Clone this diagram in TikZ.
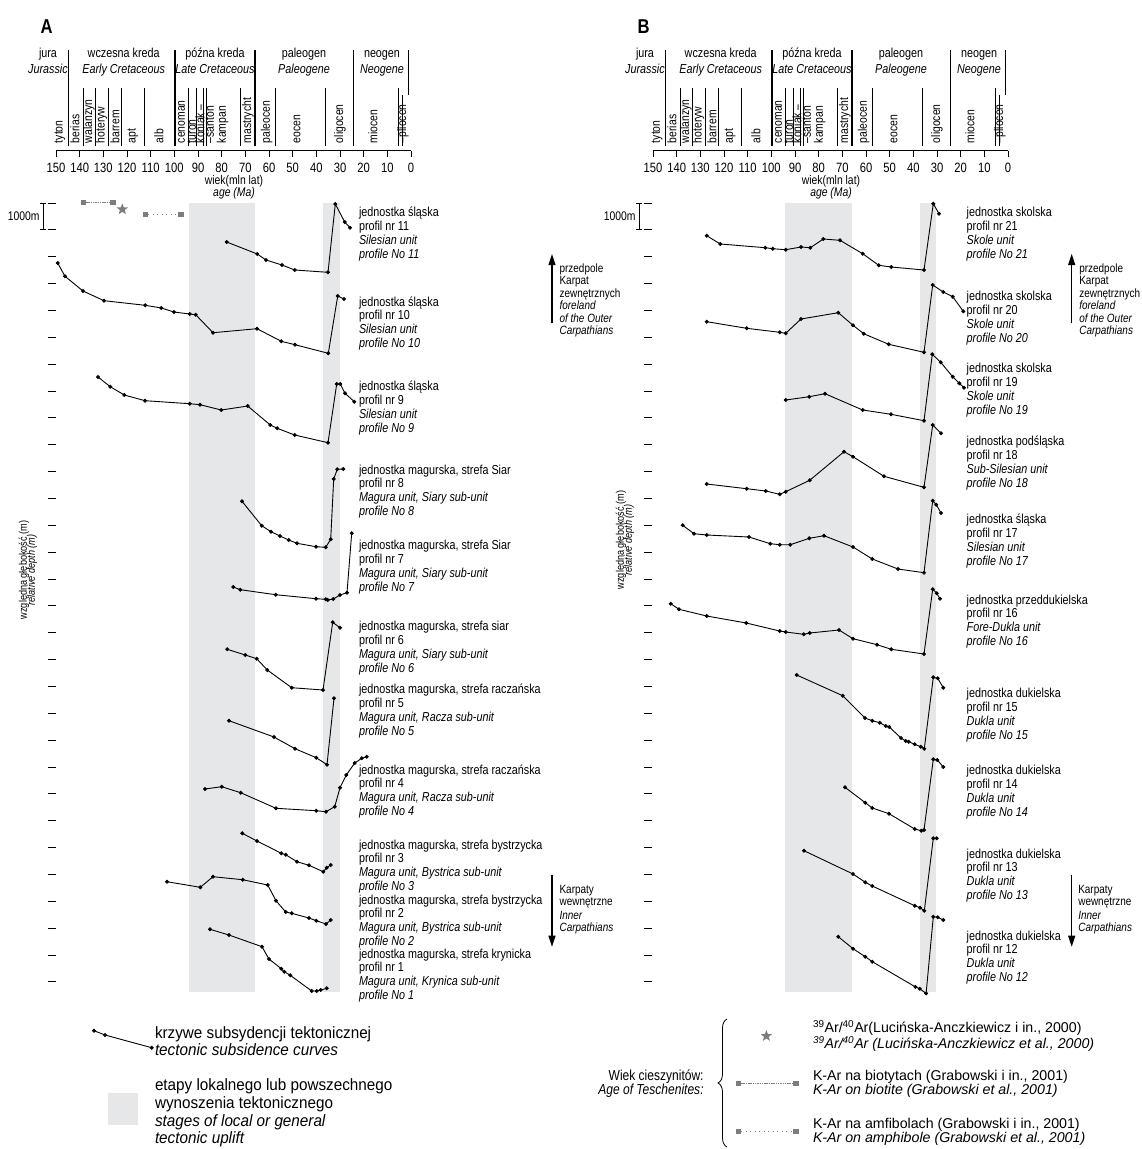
\documentclass[tikz,border=0pt]{standalone}
\usepackage{fontspec}
\setmainfont{Liberation Sans}[FakeStretch=0.83]
\newfontfamily\legfont{Liberation Sans}[FakeStretch=1.0]
\newfontfamily\legafont{Liberation Sans}[FakeStretch=0.93]
\usetikzlibrary{decorations.pathreplacing,arrows.meta,shapes.geometric}
\definecolor{bandgray}{RGB}{230,231,232}
\definecolor{symgray}{RGB}{125,125,125}

\newcommand\plab[7]{%
 \node[lab] (#1a) at (#2,#3+4) {#4};
 \node[lab] (#1b) at (#2,#3+17.9) {#5};
 \node[labi] (#1c) at (#2,#3+31.8) {#6};
 \node[labi] (#1d) at (#2,#3+45.7) {#7};}

\newcommand\geoheader[1]{%
 \node[font=\bfseries\fontsize{20}{20}\selectfont, anchor=base] (#1letter) at (46.5,33) {#1};
 \node[per] (#1p1) at (48,57) {jura};
 \node[peri] (#1p1e) at (48,73) {Jurassic};
 \node[per] (#1p2) at (123.7,57) {wczesna kreda};
 \node[peri] (#1p2e) at (123.7,73) {Early Cretaceous};
 \node[per] (#1p3) at (215,57) {późna kreda};
 \node[peri] (#1p3e) at (215,73) {Late Cretaceous};
 \node[per] (#1p4) at (304,57) {paleogen};
 \node[peri] (#1p4e) at (304,73) {Paleogene};
 \node[per] (#1p5) at (382,57) {neogen};
 \node[peri] (#1p5e) at (382,73) {Neogene};
 \foreach \xx in {68.3,175,255,353.3} \draw[line width=1.4pt] (\xx,50) -- (\xx,146);
 \draw[line width=1.4pt] (408.3,50) -- (408.3,95);
 \foreach \xx in {83.3,95,108.3,121.7,144,188.3,196.7,203.3,206.7,240,275,325,398.3} \draw[line width=0.9pt] (\xx,88) -- (\xx,146);
 \draw[line width=0.9pt] (402,95) -- (402,146);
 \node[stg] (#1s1) at (60,143) {tyton};
 \node[stg] (#1s2) at (75,143) {berias};
 \node[stg] (#1s3) at (89,143) {walanżyn};
 \node[stg] (#1s4) at (101.5,143) {hoteryw};
 \node[stg] (#1s5) at (115,143) {barrem};
 \node[stg] (#1s6) at (133,143) {apt};
 \node[stg] (#1s7) at (159,143) {alb};
 \node[stg] (#1s8) at (181.5,143) {cenoman};
 \node[stg] (#1s9) at (192,143) {turon};
 \node[stg] (#1s10) at (200,143) {koniak –};
 \node[stg] (#1s11) at (210,143) {–santon};
 \node[stg] (#1s12) at (222.7,143) {kampan};
 \node[stg] (#1s13) at (248,143) {mastrycht};
 \node[stg] (#1s14) at (266.7,143) {paleocen};
 \node[stg] (#1s15) at (297,143) {eocen};
 \node[stg] (#1s16) at (340,143) {oligocen};
 \node[stg] (#1s17) at (373,143) {miocen};
 \node[stg] (#1s18) at (403,143) {–pliocen};
 \draw[line width=0.9pt] (56,150.7) -- (411,150.7);
 \foreach \k in {0,...,15} {
   \pgfmathsetmacro\xx{56+23.667*\k}
   \pgfmathtruncatemacro\vv{150-10*\k}
   \draw[line width=0.9pt] (\xx,150.7) -- (\xx,157);
   \node[axn] (#1n\k) at (\xx,172) {\vv};
 }
 \node[wk] (#1wiek) at (234,184.5) {wiek(mln lat)};
 \node[wk, font=\fontsize{12.5}{13}\selectfont\itshape] (#1age) at (234,196.5) {age (Ma)};
}

\newcommand\depthaxis[1]{%
 \foreach \i in {0,...,29} \draw[line width=1pt] (48.3,{203+26.86*\i}) -- (55.7,{203+26.86*\i});
 \draw[line width=1pt] (43,203) -- (43,229.9);
 \draw[line width=1pt] (40.3,203) -- (45.7,203);
 \draw[line width=1pt] (40.3,229.9) -- (45.7,229.9);
 \node[font=\fontsize{12.5}{13}\selectfont, anchor=base east] (#1scale) at (39.5,220.5) {1000m};
}

\begin{document}
\begin{tikzpicture}[x=1pt,y=-1pt,
  every node/.style={inner sep=0pt, outer sep=0pt},
  lab/.style={font=\fontsize{13}{13.9}\selectfont, anchor=base west},
  labi/.style={font=\fontsize{13}{13.9}\selectfont\itshape, anchor=base west},
  per/.style={font=\fontsize{13}{14}\selectfont, anchor=base},
  peri/.style={font=\fontsize{13}{14}\selectfont\itshape, anchor=base},
  stg/.style={font=\fontsize{12.5}{12}\selectfont, rotate=90, anchor=west},
  axn/.style={font=\fontsize{13.5}{14}\selectfont, anchor=base},
  wk/.style={font=\fontsize{12.5}{13}\selectfont, anchor=base},
  ann/.style={font=\fontsize{12}{12.6}\selectfont, anchor=base west},
  anni/.style={font=\fontsize{12}{12.6}\selectfont\itshape, anchor=base west},
  curve/.style={line width=0.9pt, mark=*, mark size=1.5pt, mark options={solid,fill=black}},
  band/.style={fill=bandgray, draw=none},
  sq/.style={fill=symgray, minimum size=5.5pt, inner sep=0pt},
  starsym/.style={star, star points=5, star point ratio=2.4, fill=symgray, minimum size=12pt, inner sep=0pt},
  biot/.style={symgray, line width=0.8pt, dash pattern=on 1.5pt off 0.8pt},
  amph/.style={symgray, line width=0.8pt, dash pattern=on 1pt off 3.5pt},
  arr/.style={line width=1.1pt, -{Triangle[length=11pt,width=7pt]}},
  legA/.style={font=\legafont\fontsize{16.4}{16}\selectfont, anchor=base west},
  legAi/.style={font=\legafont\fontsize{16.4}{16}\selectfont\itshape, anchor=base west},
  legB/.style={font=\legfont\fontsize{14.2}{14}\selectfont, anchor=base west},
  legBi/.style={font=\legfont\fontsize{14.2}{14}\selectfont\itshape, anchor=base west}
]
\useasboundingbox (0,0) rectangle (1142,1149);

% ---------- bands ----------
\fill[band] (189,203) rectangle (255,992);
\fill[band] (323.3,203) rectangle (340,992);
\fill[band] (785,203) rectangle (851.7,992);
\fill[band] (920,203) rectangle (936.3,992);

% ---------- headers ----------
\geoheader{A}
\begin{scope}[xshift=597pt]
\geoheader{B}
\end{scope}

% ---------- depth axes ----------
\depthaxis{A}
\begin{scope}[xshift=596pt]
\depthaxis{B}
\end{scope}

\node[rotate=90, font=\fontsize{11}{11}\selectfont] (ylabA) at (24,570) {względna głębokość (m)};
\node[rotate=90, font=\fontsize{11}{11}\selectfont\itshape] (ylabAe) at (32,570) {relative depth (m)};
\node[rotate=90, font=\fontsize{11}{11}\selectfont] (ylabB) at (621,540) {względna głębokość (m)};
\node[rotate=90, font=\fontsize{11}{11}\selectfont\itshape] (ylabBe) at (629,540) {relative depth (m)};

% ---------- teschenite ages (panel A) ----------
\node[sq] (bA1) at (83.3,202.7) {};
\node[sq] (bA2) at (113,202.7) {};
\draw[biot] (bA1) -- (bA2);
\node[starsym] (stA) at (122.3,209.3) {};
\node[sq] (aA1) at (145.7,214.3) {};
\node[sq] (aA2) at (181,214.3) {};
\draw[amph] (aA1) -- (aA2);

% ---------- panel A curves ----------
\draw[curve] plot coordinates {(226.7,242) (257.3,254) (266,260) (282,265) (294.7,270) (328,272.3) (335.3,204) (344.7,222) (350,227.7)};
\draw[curve] plot coordinates {(57.7,263) (65,276.3) (83,291) (104,300.7) (145.3,305.3) (161.3,308) (174,312) (189.7,314) (195.7,314.7) (213,332.7) (257,328.7) (281.3,341.3) (295,344.7) (328.3,353.3) (337.7,296) (344,299)};
\draw[curve] plot coordinates {(98,377) (110.3,386.7) (124.3,395) (145,400.7) (189.7,403.7) (200,404.7) (221.3,410) (247.7,406) (270.3,425) (277.3,428.3) (294.7,435) (328,442.7) (336.7,384) (340.3,384) (345,393.3) (354.3,401.7)};
\draw[curve] plot coordinates {(242,501.3) (261.7,525.7) (271,531.7) (280,536) (288.7,540) (297,543.3) (316,546.7) (325.7,547.3) (330.7,539.3) (333.7,479) (337.3,469.3) (343.3,469)};
\draw[curve] plot coordinates {(233.3,587) (240.3,589.7) (275.7,594.7) (316,598.7) (325.7,599.3) (327.7,600) (333.3,599) (340,595) (347,592.7) (351.7,533.3)};
\draw[curve] plot coordinates {(227.3,649.3) (245.3,655) (256.7,658.7) (267.3,670) (291.7,687.7) (323,690) (332.7,622.3) (340,627.7)};
\draw[curve] plot coordinates {(229,720.7) (274,737) (295,748.7) (316.3,757.7) (327,764.7) (334,698.3)};
\draw[curve] plot coordinates {(205,789) (221.7,786.7) (240.7,792.7) (276,808.3) (316.3,810.7) (326,811.7) (334.7,806.7) (340,787.7) (346.3,775) (354.7,763) (361.7,758.3) (366.7,756.7)};
\draw[curve] plot coordinates {(242.3,833.3) (257,841) (281.3,853.3) (285.7,854.7) (297,861.7) (309,865.3) (323.3,871.7) (326.7,867.7) (330.7,865)};
\draw[curve] plot coordinates {(167,881.7) (200.3,887.3) (213,876.7) (242.7,879.7) (267.7,885) (276,900.7) (285.7,912) (291.7,913.3) (309,918) (316.3,920.7) (326,924) (330.7,920)};
\draw[curve] plot coordinates {(210,929.3) (229,935) (262,946.7) (269,959) (281.3,968.7) (284.3,971.7) (290.3,975.3) (311.7,991) (316.7,991) (320.7,990) (326.7,988.3)};

% ---------- panel B curves ----------
\draw[curve] plot coordinates {(706.7,235.7) (720.3,244) (765.3,247.7) (772.7,248.7) (785.7,249.7) (801,247) (810.3,247.7) (823.3,239) (840,240.3) (862.7,253.7) (878.7,265.3) (891.3,267) (924,270) (933.3,203.7) (939,213.7)};
\draw[curve] plot coordinates {(706.7,321.7) (746.7,328.3) (779.7,332.3) (785.7,333.3) (801,319) (838.3,312.7) (853,325.3) (863.7,333.7) (888.7,344.3) (924,352.3) (932.7,285) (943.3,292) (952.7,296.7) (963.3,311.3)};
\draw[curve] plot coordinates {(785.7,400) (809.3,396.7) (825,393.7) (862.7,410) (891,414.3) (924,420.7) (932.3,354.3) (940.7,362.3) (952.7,376.7) (959.3,383.3) (964,387.7)};
\draw[curve] plot coordinates {(706.7,484) (746.7,488.7) (765.7,491) (779.7,494.3) (785.7,491.7) (809.7,480.3) (844,451.7) (853,456.7) (884,476.3) (924,487.3) (932.7,425) (941,433.3)};
\draw[curve] plot coordinates {(682.7,525.3) (694,533.7) (706.7,535) (749,537) (770.3,543.7) (779.7,544.7) (790.3,544.7) (809.3,538.3) (824,535.7) (853,547) (872.3,559) (898,569) (924,572.7) (932.7,500.7) (936.3,504.7) (941,513)};
\draw[curve] plot coordinates {(670.7,603.7) (679,609.3) (706.7,616) (746.3,623) (779.7,631) (785.7,632) (803.7,634.3) (809.7,633) (839,630) (853,638.7) (877,644.7) (891.3,649.3) (924,654) (932.7,589.3) (936.7,593.3) (940,598.7)};
\draw[curve] plot coordinates {(796.7,675) (842.7,695.7) (865,718) (872.3,720.7) (879.7,722.7) (885.7,726) (889.3,727) (901,738) (905.7,741) (908.7,741.7) (914.7,744.3) (920.7,746.7) (924.3,748.7) (933.3,677.3) (937.7,678.3) (943.3,687.7)};
\draw[curve] plot coordinates {(845,787.3) (865.3,802.7) (872.3,808) (889,813.7) (914.7,829) (921.3,830.7) (924,830) (933.3,759.3) (937.3,760) (943.3,767)};
\draw[curve] plot coordinates {(804,850.7) (853,874) (865.3,882.3) (872.3,886) (914.7,905.7) (920,907.7) (924.3,910.7) (933.3,838.3) (936.7,838.3)};
\draw[curve] plot coordinates {(838.3,936.7) (853,948.7) (865.3,956.7) (872.3,961.7) (915.4,986.9) (919.7,988.7) (926.1,993.4) (933.3,916.7) (937.7,917.3) (943.3,920)};

% ---------- profile labels A ----------
\plab{L11}{359}{212.7}{jednostka śląska}{profil nr 11}{Silesian unit}{profile No 11}
\plab{L10}{359}{302}{jednostka śląska}{profil nr 10}{Silesian unit}{profile No 10}
\plab{L9}{359}{386.7}{jednostka śląska}{profil nr 9}{Silesian unit}{profile No 9}
\plab{L8}{359}{470}{jednostka magurska, strefa Siar}{profil nr 8}{Magura unit, Siary sub-unit}{profile No 8}
\plab{L7}{359}{545.3}{jednostka magurska, strefa Siar}{profil nr 7}{Magura unit, Siary sub-unit}{profile No 7}
\plab{L6}{359}{626.7}{jednostka magurska, strefa siar}{profil nr 6}{Magura unit, Siary sub-unit}{profile No 6}
\plab{L5}{359}{689.3}{jednostka magurska, strefa raczańska}{profil nr 5}{Magura unit, Racza sub-unit}{profile No 5}
\plab{L4}{359}{770}{jednostka magurska, strefa raczańska}{profil nr 4}{Magura unit, Racza sub-unit}{profile No 4}
\plab{L3}{359}{845}{jednostka magurska, strefa bystrzycka}{profil nr 3}{Magura unit, Bystrica sub-unit}{profile No 3}
\plab{L2}{359}{900}{jednostka magurska, strefa bystrzycka}{profil nr 2}{Magura unit, Bystrica sub-unit}{profile No 2}
\plab{L1}{359}{954}{jednostka magurska, strefa krynicka}{profil nr 1}{Magura unit, Krynica sub-unit}{profile No 1}

% ---------- profile labels B ----------
\plab{L21}{966.7}{212.7}{jednostka skolska}{profil nr 21}{Skole unit}{profile No 21}
\plab{L20}{966.7}{296.7}{jednostka skolska}{profil nr 20}{Skole unit}{profile No 20}
\plab{L19}{966.7}{368.3}{jednostka skolska}{profil nr 19}{Skole unit}{profile No 19}
\plab{L18}{966.7}{441.7}{jednostka podśląska}{profil nr 18}{Sub-Silesian unit}{profile No 18}
\plab{L17}{966.7}{519.3}{jednostka śląska}{profil nr 17}{Silesian unit}{profile No 17}
\plab{L16}{966.7}{600}{jednostka przeddukielska}{profil nr 16}{Fore-Dukla unit}{profile No 16}
\plab{L15}{966.7}{693.3}{jednostka dukielska}{profil nr 15}{Dukla unit}{profile No 15}
\plab{L14}{966.7}{770.7}{jednostka dukielska}{profil nr 14}{Dukla unit}{profile No 14}
\plab{L13}{966.7}{854}{jednostka dukielska}{profil nr 13}{Dukla unit}{profile No 13}
\plab{L12}{966.7}{936}{jednostka dukielska}{profil nr 12}{Dukla unit}{profile No 12}

% ---------- direction annotations ----------
\coordinate (upA0) at (552,323.3); \coordinate (upA1) at (552,254);
\draw[arr] (upA0) -- (upA1);
\node[ann] (fA1) at (559.6,272.3) {przedpole};
\node[ann] (fA2) at (559.6,284.8) {Karpat};
\node[ann] (fA3) at (559.6,297.3) {zewnętrznych};
\node[anni] (fA4) at (559.6,309.8) {foreland};
\node[anni] (fA5) at (559.6,322.3) {of the Outer};
\node[anni] (fA6) at (559.6,334.8) {Carpathians};
\coordinate (dnA0) at (552,875); \coordinate (dnA1) at (552,946.7);
\draw[arr] (dnA0) -- (dnA1);
\node[ann] (iA1) at (559.6,893) {Karpaty};
\node[ann] (iA2) at (559.6,905.7) {wewnętrzne};
\node[anni] (iA3) at (559.6,919) {Inner};
\node[anni] (iA4) at (559.6,931.3) {Carpathians};

\coordinate (upB0) at (1071.7,323.3); \coordinate (upB1) at (1071.7,254);
\draw[arr] (upB0) -- (upB1);
\node[ann] (fB1) at (1079.3,272.3) {przedpole};
\node[ann] (fB2) at (1079.3,284.8) {Karpat};
\node[ann] (fB3) at (1079.3,297.3) {zewnętrznych};
\node[anni] (fB4) at (1079.3,309.8) {foreland};
\node[anni] (fB5) at (1079.3,322.3) {of the Outer};
\node[anni] (fB6) at (1079.3,334.8) {Carpathians};
\coordinate (dnB0) at (1071.7,875); \coordinate (dnB1) at (1071.7,946.7);
\draw[arr] (dnB0) -- (dnB1);
\node[ann] (iB1) at (1078.3,893) {Karpaty};
\node[ann] (iB2) at (1078.3,905.7) {wewnętrzne};
\node[anni] (iB3) at (1078.3,919) {Inner};
\node[anni] (iB4) at (1078.3,931.3) {Carpathians};

% ---------- legend A ----------
\draw[curve] plot coordinates {(94,1030.7) (105,1035) (151.7,1047.7)};
\node[legA] (lg1) at (155,1038.5) {krzywe subsydencji tektonicznej};
\node[legAi] (lg2) at (155,1055) {tectonic subsidence curves};
\fill[band] (108.3,1093.3) rectangle (137.7,1125);
\node[legA] (lg3) at (155,1090) {etapy lokalnego lub powszechnego};
\node[legA] (lg4) at (155,1108) {wynoszenia tektonicznego};
\node[legAi] (lg5) at (155,1126.5) {stages of local or general};
\node[legAi] (lg6) at (155,1143) {tectonic uplift};

% ---------- legend B ----------
\node[font=\fontsize{14.5}{14}\selectfont, anchor=base east] (wk1) at (703.6,1080) {Wiek cieszynitów:};
\node[font=\fontsize{14.5}{14}\selectfont\itshape, anchor=base east] (wk2) at (703.6,1094) {Age of Teschenites:};
\draw[line width=0.8pt, decorate, decoration={brace, amplitude=9pt}] (727,1147) -- (727,1019);
\node[starsym] (lst) at (766.4,1036) {};
\node[legB] (lb1) at (813,1032.5) {\textsuperscript{39}Ar/\textsuperscript{40}Ar(Lucińska-Anczkiewicz i in., 2000)};
\node[legBi] (lb2) at (813,1048.3) {\textsuperscript{39}Ar/\textsuperscript{40}Ar (Lucińska-Anczkiewicz et al., 2000)};
\node[sq] (lbb1) at (738.4,1083.5) {};
\node[sq] (lbb2) at (795.8,1083.5) {};
\draw[biot] (lbb1) -- (lbb2);
\node[legB] (lb3) at (813,1080) {K-Ar na biotytach (Grabowski i in., 2001)};
\node[legBi] (lb4) at (813,1094.5) {K-Ar on biotite (Grabowski et al., 2001)};
\node[sq] (lba1) at (738.4,1131.5) {};
\node[sq] (lba2) at (795.8,1131.5) {};
\draw[amph] (lba1) -- (lba2);
\node[legB] (lb5) at (813,1128) {K-Ar na amfibolach (Grabowski i in., 2001)};
\node[legBi] (lb6) at (813,1142.5) {K-Ar on amphibole (Grabowski et al., 2001)};
\end{tikzpicture}
\end{document}
